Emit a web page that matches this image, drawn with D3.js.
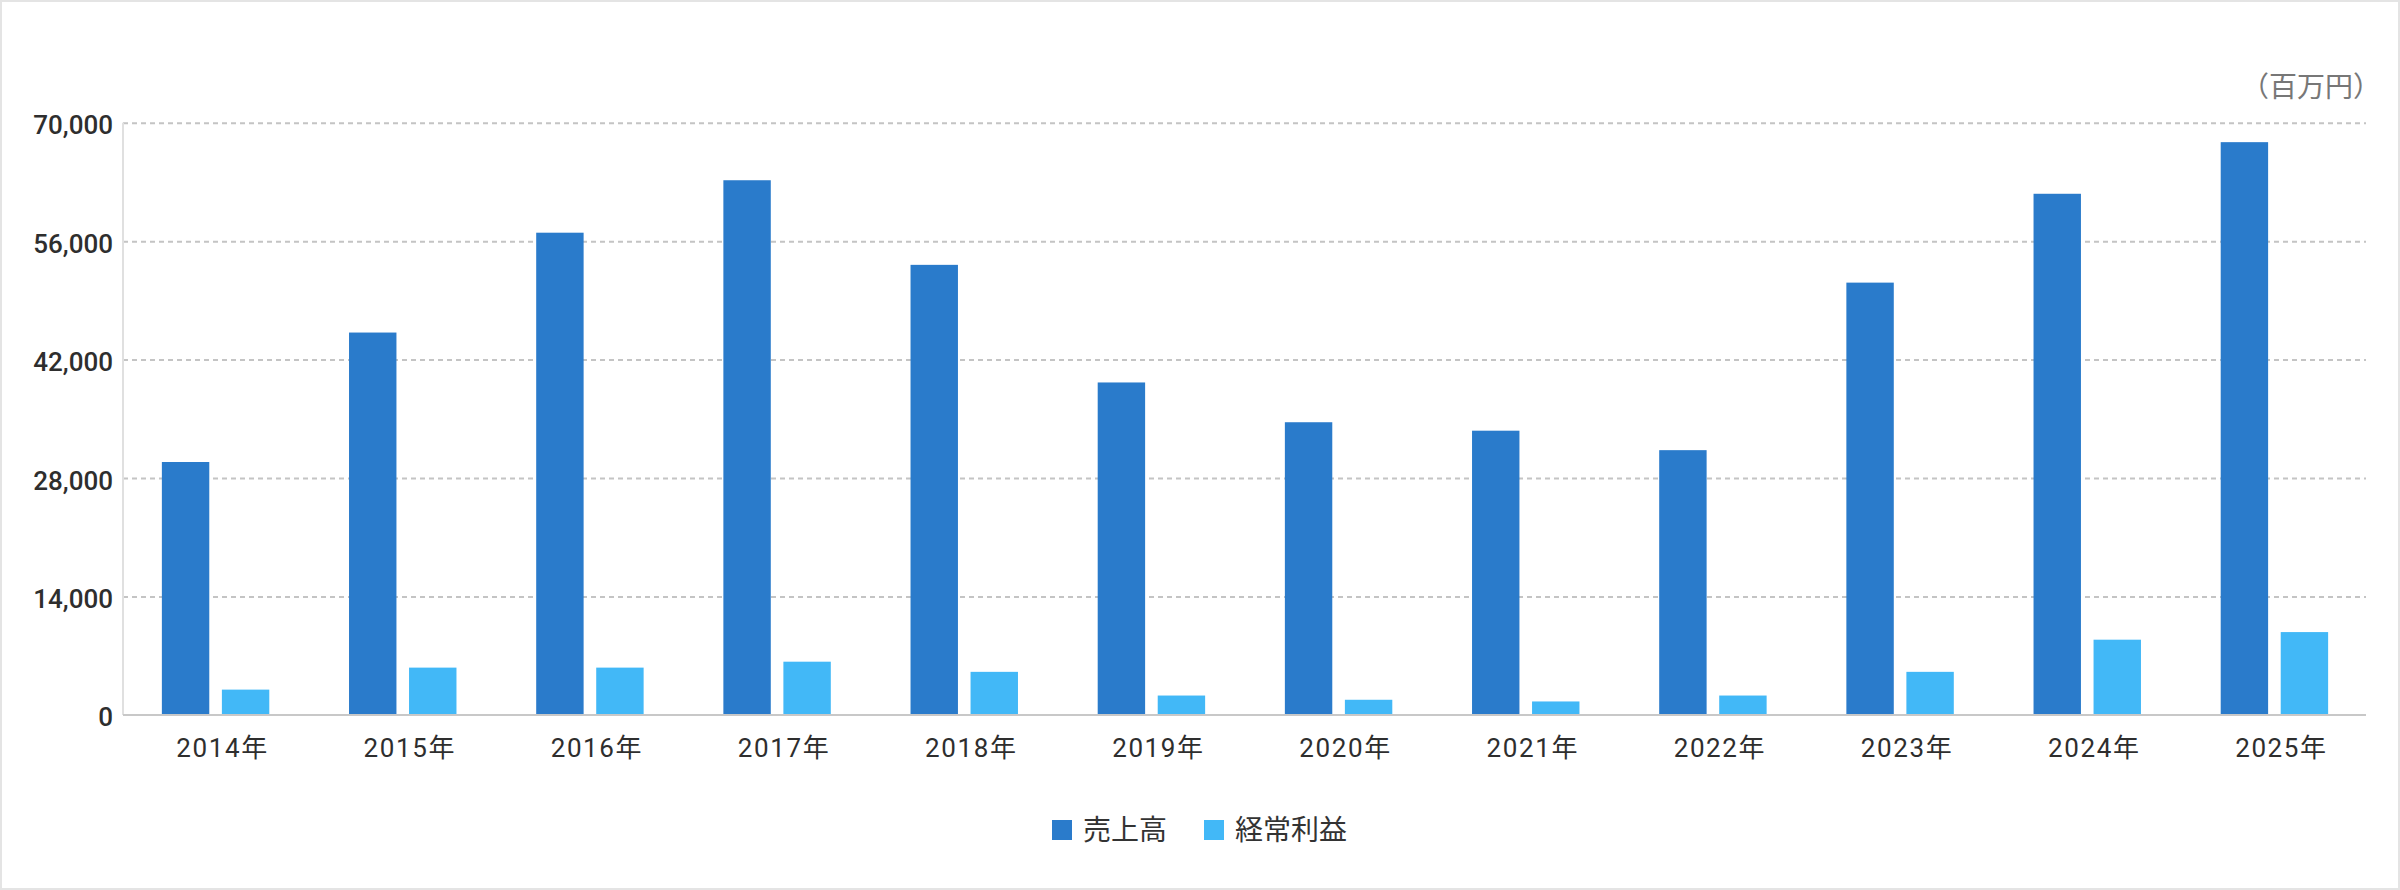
<!DOCTYPE html>
<html>
<head>
<meta charset="utf-8">
<script src="https://cdn.jsdelivr.net/npm/d3@7"></script>
<style>
  html, body { margin: 0; padding: 0; background: #fff; }
  svg { display: block; }
  text { font-family: Roboto, "Noto Sans CJK JP", sans-serif; }
</style>
</head>
<body>
<svg id="chart" width="2400" height="890"></svg>
<script>
const categories = ["2014年","2015年","2016年","2017年","2018年","2019年","2020年","2021年","2022年","2023年","2024年","2025年"];
const seriesNames = ["売上高", "経常利益"];
const sales = [29900, 45200, 57000, 63200, 53200, 39300, 34600, 33600, 31300, 51100, 61600, 67700];
const profit = [3000, 5600, 5600, 6300, 5100, 2300, 1800, 1600, 2300, 5100, 8900, 9800];
const yTicks = [0, 14000, 28000, 42000, 56000, 70000];
const unitLabel = "（百万円）";
const colors = ["#2a7bcb", "#42b8f7"];

const W = 2400, H = 890;
const svg = d3.select("#chart");

// outer frame
svg.append("rect").attr("x", 1).attr("y", 1).attr("width", W - 2).attr("height", H - 2)
  .attr("fill", "#fff").attr("stroke", "#e4e4e4").attr("stroke-width", 2);

const plot = { left: 123, right: 2366, top: 122.7, bottom: 715 };

const x0 = d3.scaleBand().domain(categories).range([plot.left - 1, plot.right + 2])
  .paddingInner(0.426).paddingOuter(0.213);
const x1 = d3.scaleBand().domain(seriesNames).range([0, x0.bandwidth()]).paddingInner(0.21);
const y = d3.scaleLinear().domain([0, 70000]).range([plot.bottom, plot.top]);

// gridlines
const gridAxis = d3.axisLeft(y).tickValues(yTicks.filter(d => d > 0))
  .tickSize(-(plot.right - plot.left)).tickFormat("");
const gg = svg.append("g").attr("transform", `translate(${plot.left},0)`).call(gridAxis);
gg.select(".domain").remove();
gg.selectAll(".tick line").attr("stroke", "#c4c4c4").attr("stroke-width", 2)
  .attr("stroke-dasharray", "5,4");

// y axis vertical line
svg.append("line").attr("x1", plot.left).attr("x2", plot.left)
  .attr("y1", y(70000)).attr("y2", y(0))
  .attr("stroke", "#e0e0e0").attr("stroke-width", 2);

// y tick labels
const yAxis = d3.axisLeft(y).tickValues(yTicks).tickSize(0).tickPadding(0)
  .tickFormat(d3.format(","));
const ya = svg.append("g").attr("transform", `translate(113,0)`).call(yAxis);
ya.select(".domain").remove();
ya.selectAll(".tick text").attr("font-size", 26).attr("fill", "#2e2e2e")
  .attr("font-weight", 500)
  .attr("font-family", "Roboto, sans-serif").attr("dy", "0.42em");

// bars
const data = categories.map((c, i) => ({ cat: c, vals: [sales[i], profit[i]] }));
const groups = svg.append("g").selectAll("g").data(data).join("g")
  .attr("transform", d => `translate(${x0(d.cat)},0)`);
groups.selectAll("rect").data(d => d.vals.map((v, k) => ({ name: seriesNames[k], v, k })))
  .join("rect")
  .attr("x", d => x1(d.name))
  .attr("width", x1.bandwidth())
  .attr("y", d => y(d.v))
  .attr("height", d => y(0) - y(d.v))
  .attr("fill", d => colors[d.k]);

// baseline
svg.append("line").attr("x1", plot.left).attr("x2", plot.right)
  .attr("y1", y(0)).attr("y2", y(0))
  .attr("stroke", "#c8c8c8").attr("stroke-width", 2);

// x axis labels
const xAxis = d3.axisBottom(x0).tickSize(0).tickPadding(0);
const xa = svg.append("g").attr("transform", `translate(7,${757})`).call(xAxis);
xa.select(".domain").remove();
xa.selectAll(".tick text").attr("font-size", 26).attr("fill", "#2e2e2e")
  .attr("dy", 0).attr("letter-spacing", "1.6px")
  .attr("font-family", "Roboto, 'Noto Sans CJK JP', sans-serif");

// unit label
svg.append("text").attr("x", 2381).attr("y", 97).attr("text-anchor", "end")
  .attr("font-size", 28).attr("fill", "#777")
  .attr("font-family", "'Noto Sans CJK JP', sans-serif")
  .text(unitLabel);

// legend
const legendItems = [
  { name: seriesNames[0], color: colors[0], x: 1052 },
  { name: seriesNames[1], color: colors[1], x: 1204 }
];
const lg = svg.append("g").selectAll("g").data(legendItems).join("g")
  .attr("transform", d => `translate(${d.x},820)`);
lg.append("rect").attr("width", 20).attr("height", 20).attr("fill", d => d.color);
lg.append("text").attr("x", 31).attr("y", 10).attr("dy", "0.36em")
  .attr("font-size", 28).attr("fill", "#333")
  .attr("font-family", "'Noto Sans CJK JP', sans-serif")
  .text(d => d.name);
</script>
</body>
</html>
